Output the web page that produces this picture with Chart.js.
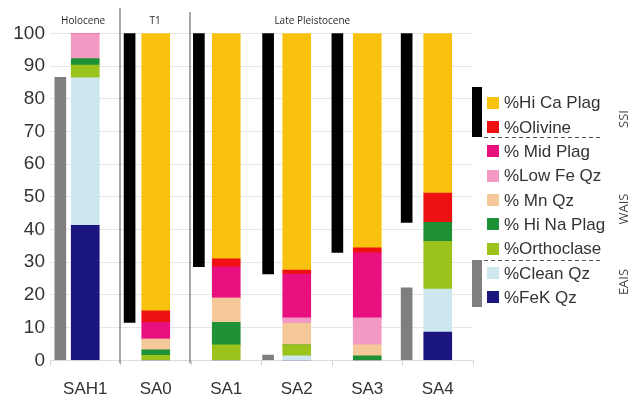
<!DOCTYPE html>
<html>
<head>
<meta charset="utf-8">
<script src="https://cdn.jsdelivr.net/npm/chart.js@4/dist/chart.umd.min.js"></script>
<style>
  html, body { margin: 0; padding: 0; background: #ffffff; }
  #wrap { width: 630px; height: 398px; }
</style>
</head>
<body>
<div id="wrap"><canvas id="chart" width="630" height="398"></canvas></div>
<script>
// Samples and axis ticks
const samples = ['SAH1', 'SA0', 'SA1', 'SA2', 'SA3', 'SA4'];
const yTickValues = [0, 10, 20, 30, 40, 50, 60, 70, 80, 90, 100];
const periodNames = ['Holocene', 'T1', 'Late Pleistocene'];
const sourceNames = ['SSI', 'WAIS', 'EAIS'];

// Grain-type percentages per sample (stacked bottom to top)
const feKQz      = [41.3, 0,    0,    0,    0,    8.6];
const cleanQz    = [45.1, 0,    0,    1.4,  0,    13.2];
const orthoclase = [3.9,  1.5,  4.7,  3.3,  0,    14.6];
const hiNaPlag   = [2.0,  1.7,  6.9,  0,    1.4,  5.8];
const mnQz       = [0,    3.3,  7.4,  6.6,  3.3,  0];
const lowFeQz    = [7.7,  0,    0,    1.7,  8.3,  0];
const midPlag    = [0,    5.1,  9.6,  13.4, 19.9, 0];
const olivine    = [0,    3.5,  2.4,  1.2,  1.5,  8.9];
const hiCaPlag   = [0,    84.9, 69.0, 72.4, 65.6, 48.9];

const mineralLabels = ['%FeK Qz', '%Clean Qz', '%Orthoclase', '% Hi Na Plag', '% Mn Qz',
                       '%Low Fe Qz', '% Mid Plag', '%Olivine', '%Hi Ca Plag'];
const mineralValues = [feKQz, cleanQz, orthoclase, hiNaPlag, mnQz, lowFeQz, midPlag, olivine, hiCaPlag];

// Source ranges shown as narrow bars beside each sample
const ssiLow   = [null, 11.6, 28.6, 26.4, 33.0, 42.2];
const ssiHigh  = [null, 100,  100,  100,  100,  100];
const eaisLow  = [0,    null, null, 0,    null, 0];
const eaisHigh = [86.5, null, null, 1.6,  null, 22.2];

// Styling
const mineralColors = ['#1b1580', '#cde7ee', '#9bc31c', '#1e9035', '#f5c89a',
                       '#f29ac4', '#e8107f', '#ee1111', '#f9c20f'];
const FONT = '"Liberation Sans", Arial, sans-serif';
const TEXT = '#333333';

function rangePoints(low, high) {
  const pts = [];
  low.forEach((lo, i) => {
    if (lo !== null && high[i] !== null) pts.push({ x: i, y: [lo, high[i]] });
  });
  return pts;
}

const datasets = mineralValues.map((vals, k) => ({
  label: mineralLabels[k],
  data: vals,
  backgroundColor: mineralColors[k],
  xAxisID: 'x',
  stack: 'grains',
  grouped: false,
  barThickness: 28,
  isMineral: true
}));

datasets.push({
  label: 'EAIS range',
  data: rangePoints(eaisLow, eaisHigh),
  backgroundColor: '#7f7f7f',
  xAxisID: 'xn',
  stack: 'eais',
  grouped: false,
  barThickness: 11
});
datasets.push({
  label: 'SSI range',
  data: rangePoints(ssiLow, ssiHigh),
  backgroundColor: '#000000',
  xAxisID: 'xn',
  stack: 'ssi',
  grouped: false,
  barThickness: 11
});

// Period headings and separators above the plot, plus the side legend
const decorations = {
  id: 'decorations',
  afterDraw(chart) {
    const { ctx, chartArea, scales } = chart;
    const x = scales.x;
    ctx.save();

    // separators between periods
    ctx.strokeStyle = '#777777';
    ctx.lineWidth = 1.3;
    [[0.5, 8], [1.5, 12]].forEach(([pos, top]) => {
      const px = Math.round(x.getPixelForValue(pos)) - 1;
      ctx.beginPath();
      ctx.moveTo(px, top);
      ctx.lineTo(px, chartArea.bottom + 3);
      ctx.stroke();
    });

    // period headings
    ctx.fillStyle = '#2a2a2a';
    ctx.font = '10px "Open Sans", sans-serif';
    ctx.textAlign = 'center';
    ctx.textBaseline = 'middle';
    [-0.03, 0.99, 3.22].forEach((pos, i) => {
      ctx.fillText(periodNames[i], x.getPixelForValue(pos), 21);
    });

    // legend entries, top of the stack first
    const items = chart.data.datasets.filter(d => d.isMineral).slice().reverse();
    ctx.font = '17px ' + FONT;
    ctx.textAlign = 'left';
    items.forEach((d, i) => {
      const cy = 102.8 + 24.3 * i;
      ctx.fillStyle = d.backgroundColor;
      ctx.fillRect(487, Math.round(cy - 6), 12, 12);
      ctx.fillStyle = TEXT;
      ctx.fillText(d.label, 504, cy + 1);
    });

    // source keys
    ctx.fillStyle = '#000000';
    ctx.fillRect(472, 87, 10, 50);
    ctx.fillStyle = '#7f7f7f';
    ctx.fillRect(472, 260, 10, 47);

    ctx.setLineDash([4, 3]);
    ctx.strokeStyle = '#555555';
    ctx.lineWidth = 1;
    ctx.beginPath();
    ctx.moveTo(484, 137.5); ctx.lineTo(600, 137.5);
    ctx.moveTo(484, 260.5); ctx.lineTo(600, 260.5);
    ctx.stroke();
    ctx.setLineDash([]);

    ctx.font = '13px "Open Sans", sans-serif';
    ctx.textAlign = 'center';
    ctx.fillStyle = '#444444';
    [119, 209, 282].forEach((cy, i) => {
      ctx.save();
      ctx.translate(624, cy);
      ctx.rotate(-Math.PI / 2);
      ctx.fillText(sourceNames[i], 0, 0);
      ctx.restore();
    });

    ctx.restore();
  }
};

new Chart(document.getElementById('chart'), {
  type: 'bar',
  data: { labels: samples, datasets },
  plugins: [decorations],
  options: {
    responsive: false,
    animation: false,
    devicePixelRatio: 1,
    layout: { padding: { left: 0, right: 157, top: 33.3, bottom: 0 } },
    plugins: { legend: { display: false }, tooltip: { enabled: false } },
    scales: {
      x: {
        type: 'category',
        stacked: true,
        offset: true,
        afterFit: (axis) => { axis.height = 37.7; },
        grid: { display: true, offset: true, drawOnChartArea: false, drawTicks: true, tickLength: 5, color: '#cfcfcf' },
        border: { display: true, color: '#dddddd' },
        ticks: { color: TEXT, padding: 15.7, font: { family: FONT, size: 17, lineHeight: 1 } }
      },
      xn: {
        type: 'linear',
        display: false,
        offset: false,
        grid: { offset: false },
        min: -0.149,
        max: 5.958
      },
      y: {
        stacked: true,
        min: 0,
        max: 100,
        afterFit: (axis) => { axis.width = 50; },
        afterBuildTicks: (axis) => { axis.ticks = yTickValues.map(v => ({ value: v })); },
        grid: { color: '#e6e6e6', drawTicks: false },
        border: { display: false },
        ticks: { color: TEXT, padding: 5, font: { family: FONT, size: 19, lineHeight: 1 } }
      }
    }
  }
});
</script>
</body>
</html>
